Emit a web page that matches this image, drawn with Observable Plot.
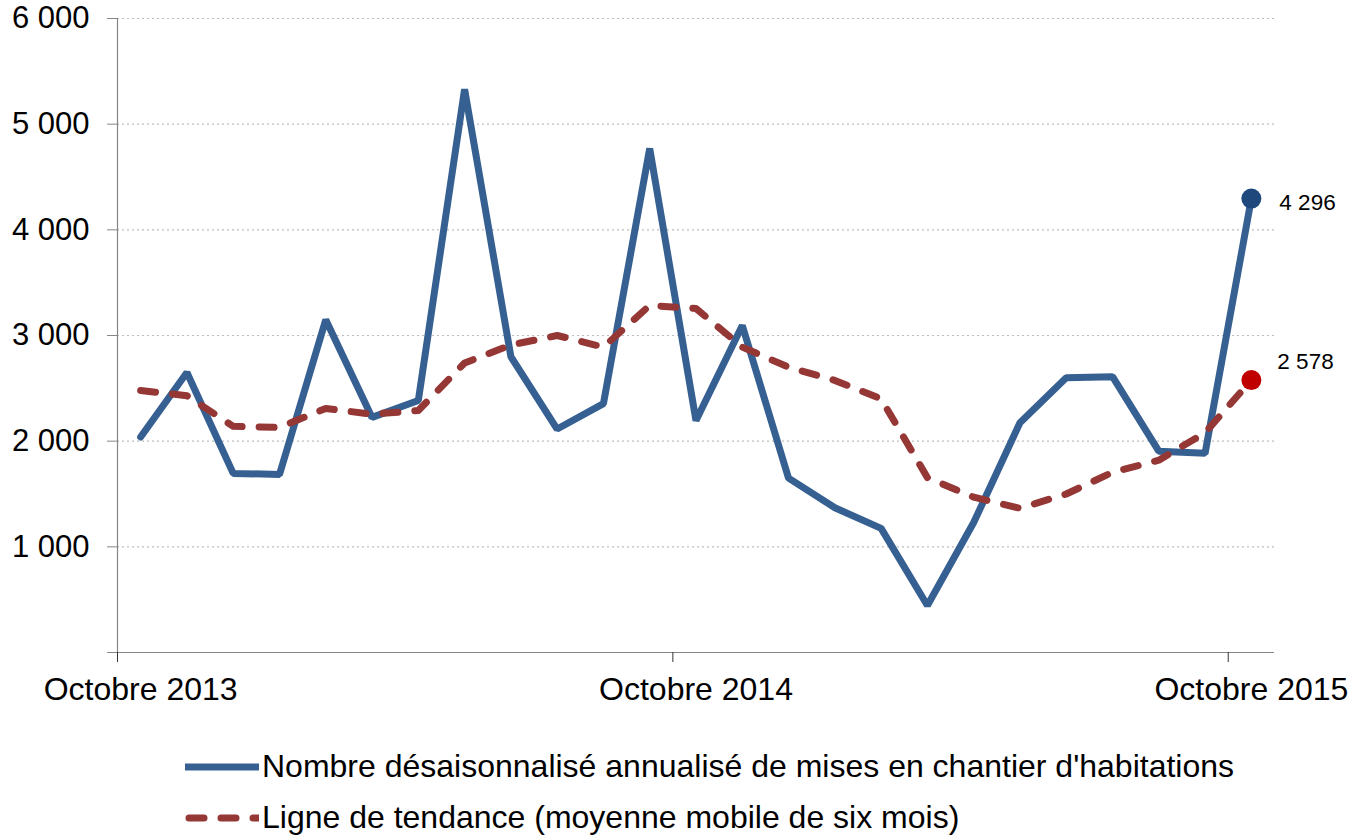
<!DOCTYPE html>
<html><head><meta charset="utf-8">
<script src="https://cdn.jsdelivr.net/npm/d3@7"></script>
<script src="https://cdn.jsdelivr.net/npm/@observablehq/plot@0.6"></script>
<style>
body{margin:0;background:#fff;font-family:"Liberation Sans",Arial,sans-serif;}
#wrap{position:relative;width:1362px;height:838px;overflow:hidden;}
#legend{position:absolute;left:183px;top:741px;font-size:32px;color:#000;}
.row{display:flex;align-items:center;height:51px;}
.row svg{margin-right:3px;}
</style></head><body>
<div id="wrap"><div id="chart"></div><div id="legend"></div></div>
<script>
const months = ["2013-10","2013-11","2013-12","2014-01","2014-02","2014-03","2014-04","2014-05","2014-06","2014-07","2014-08","2014-09","2014-10","2014-11","2014-12","2015-01","2015-02","2015-03","2015-04","2015-05","2015-06","2015-07","2015-08","2015-09","2015-10"];
const starts = [2040,2650,1695,1685,3150,2225,2385,5330,2800,2115,2355,4770,2195,3095,1650,1370,1175,445,1230,2175,2600,2610,1905,1885,4296];
const trend = [2480,2430,2140,2130,2310,2255,2290,2740,2910,3000,2890,3285,3255,2890,2700,2575,2400,1655,1470,1365,1500,1705,1820,2080,2578];
const tickIndex = [0,12,24];
const tickLabels = ["Octobre 2013","Octobre 2014","Octobre 2015"];
const yTicks = [1000,2000,3000,4000,5000,6000];
const seriesNames = ["Nombre désaisonnalisé annualisé de mises en chantier d'habitations","Ligne de tendance (moyenne mobile de six mois)"];

const blue = "#376092", red = "#953735";
const data = months.map((m,i)=>({i, m, s: starts[i], t: trend[i]}));
const last = [data[data.length-1]];
const fmt = d => d3.format(",")(d).replace(/,/g, " ");

const chart = Plot.plot({
  width: 1362, height: 720,
  marginLeft: 117, marginRight: 88, marginTop: 18, marginBottom: 68,
  style: {fontFamily: '"Liberation Sans", Arial, sans-serif', fontSize: "32px", color: "#000", background: "#fff"},
  x: {type: "linear", domain: [-0.5, months.length - 0.5]},
  y: {domain: [0, 6000]},
  marks: [
    Plot.gridY(yTicks, {stroke: "#bdbdbd", strokeOpacity: 1, strokeDasharray: "2,3", strokeWidth: 1.2}),
    Plot.ruleX([-0.5], {y1: 0, y2: 6000, stroke: "#868686", strokeWidth: 1.2}),
    Plot.ruleY([0], {x1: -0.5, x2: months.length - 0.5, stroke: "#868686", strokeWidth: 1.2, insetLeft: -10}),
    Plot.axisY(yTicks, {tickSize: 10, tickPadding: 18, stroke: "#868686", fill: "#000", fontSize: 31, tickFormat: fmt, label: null}),
    Plot.axisX(tickIndex.map(i => i - 0.5), {tickSize: 10, stroke: "#333", text: null, label: null}),
    Plot.axisX(tickIndex, {tickSize: 0, tickPadding: 25, fill: "#000", fontSize: 32, tickFormat: (d, k) => tickLabels[k], label: null}),
    Plot.line(data, {x: "i", y: "s", stroke: blue, strokeWidth: 7, strokeLinejoin: "miter"}),
    Plot.line(data, {x: "i", y: "t", stroke: red, strokeWidth: 7, strokeDasharray: "15,17", strokeLinecap: "round", strokeLinejoin: "round"}),
    Plot.dot(last, {x: "i", y: "s", r: 10, fill: "#1f497d", stroke: null}),
    Plot.dot(last, {x: "i", y: "t", r: 10, fill: "#c00000", stroke: null}),
    Plot.text(last, {x: "i", y: "s", text: d => fmt(d.s), dx: 28, dy: 4, textAnchor: "start", fontSize: 22.5, fill: "#000"}),
    Plot.text(last, {x: "i", y: "t", text: d => fmt(d.t), dx: 26, dy: -18, textAnchor: "start", fontSize: 22.5, fill: "#000"})
  ]
});
document.getElementById("chart").appendChild(chart);

const legend = document.getElementById("legend");
seriesNames.forEach((name, k) => {
  const row = document.createElement("div");
  row.className = "row";
  const sw = k === 0
    ? `<svg width="76" height="20"><line x1="2" y1="10" x2="76" y2="10" stroke="${blue}" stroke-width="7"/></svg>`
    : `<svg width="76" height="20"><line x1="6" y1="10" x2="76" y2="10" stroke="${red}" stroke-width="7" stroke-dasharray="15,17" stroke-linecap="round"/></svg>`;
  row.innerHTML = sw + `<span>${name}</span>`;
  legend.appendChild(row);
});
</script>
</body></html>
